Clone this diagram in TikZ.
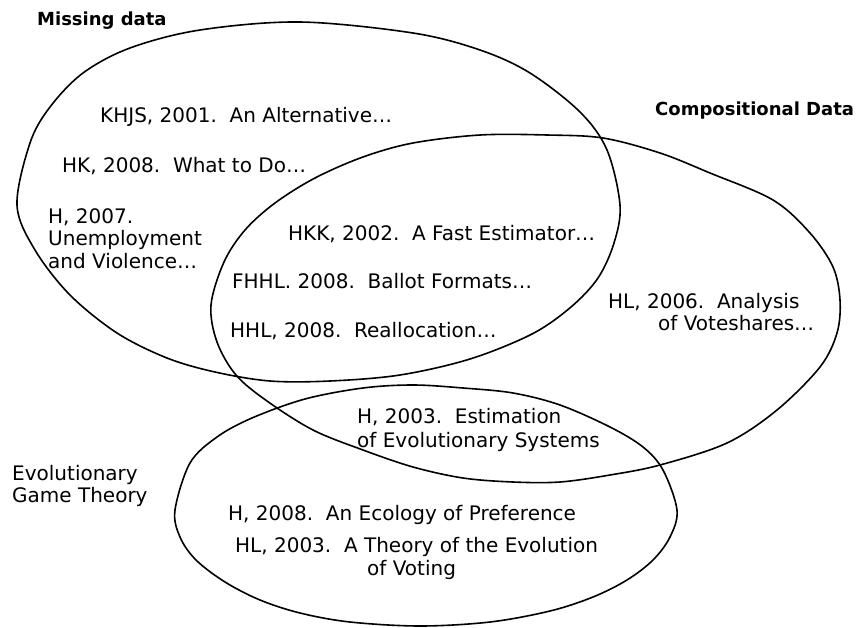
\documentclass[tikz,border=0pt]{standalone}
\usepackage{fontspec}
\setmainfont{DejaVu Sans}
\begin{document}
\begin{tikzpicture}[x=1pt,y=-1pt,
  txt/.style={anchor=base west, inner sep=0pt, font=\fontsize{20}{23}\selectfont},
  lbl/.style={anchor=base west, inner sep=0pt, font=\fontsize{18}{22}\selectfont\bfseries},
  ring/.style={line width=1.6pt, line join=round}]
\useasboundingbox (0,0) rectangle (857,627);
\fill[white] (0,0) rectangle (857,627);
% Missing data
\draw[ring] plot[smooth cycle, tension=0.55] coordinates {
 (17,205) (30,143) (50,107) (83,73) (130,48) (200,30) (300,22) (413,33)
 (480,50) (530,73) (580,112) (607,150) (620,205) (614,243) (598,278)
 (571,307) (532,334) (470,359) (400,375) (330,381) (270,381) (215,372) (167,358)
 (117,333) (70,295) (35,250)};
% Compositional data
\draw[ring] plot[smooth cycle, tension=0.55] coordinates {
 (211,305) (217,342) (236,375) (267,401) (313,430) (363,450) (413,467) (463,478)
 (513,482) (560,482) (610,475) (660,465) (727,443) (777,410) (820,367)
 (837,333) (840,300) (833,267) (810,233) (773,200) (710,173) (660,153)
 (603,138) (547,135) (480,135) (413,143) (363,157) (315,178) (275,203)
 (245,230) (224,262)};
% Evolutionary game theory
\draw[ring] plot[smooth cycle, tension=0.55] coordinates {
 (175,510) (190,463) (217,437) (252,418) (305,399) (363,388) (413,385)
 (463,388) (513,393) (560,405) (610,427) (643,447) (663,470) (677,510)
 (670,537) (653,560) (627,580) (593,597) (550,611) (490,622) (420,626)
 (350,622) (300,613) (260,600) (225,582) (196,560) (180,537)};
% labels
\node[lbl] (md) at (37,25) {Missing data};
\node[lbl] (cd) at (655,115) {Compositional Data};
\node[txt] (egt1) at (12,480) {Evolutionary};
\node[txt] (egt2) at (12,502) {Game Theory};
% entries
\node[txt] (khjs) at (100,122) {KHJS, 2001.\ \ An Alternative…};
\node[txt] (hk) at (62,172) {HK, 2008.\ \ What to Do…};
\node[txt] (h07a) at (48,223) {H, 2007.};
\node[txt] (h07b) at (48,245) {Unemployment};
\node[txt] (h07c) at (48,268) {and Violence…};
\node[txt] (hkk) at (288,240) {HKK, 2002.\ \ A Fast Estimator…};
\node[txt] (fhhl) at (232,288) {FHHL. 2008.\ \ Ballot Formats…};
\node[txt] (hhl) at (230,337) {HHL, 2008.\ \ Reallocation…};
\node[txt] (hl06a) at (608,308) {HL, 2006.\ \ Analysis};
\node[txt] (hl06b) at (658,330) {of Voteshares…};
\node[txt] (h03a) at (357,423) {H, 2003.\ \ Estimation};
\node[txt] (h03b) at (357,447) {of Evolutionary Systems};
\node[txt] (h08) at (228,520) {H, 2008.\ \ An Ecology of Preference};
\node[txt] (hl03a) at (235,552) {HL, 2003.\ \ A Theory of the Evolution};
\node[txt] (hl03b) at (367,575) {of Voting};
\end{tikzpicture}
\end{document}
